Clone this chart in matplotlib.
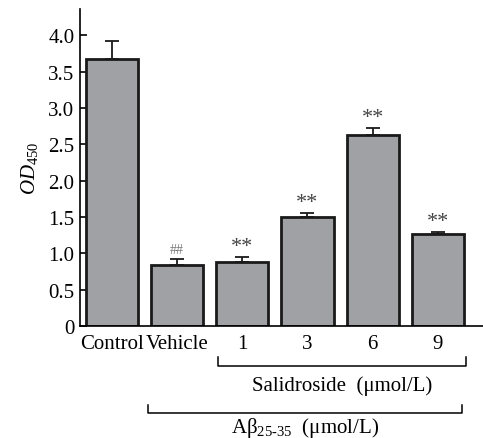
import matplotlib
matplotlib.use("Agg")
import matplotlib.pyplot as plt
import matplotlib.transforms as mtransforms

groups = ["Control", "Vehicle", "1", "3", "6", "9"]
od450 = [3.68, 0.84, 0.88, 1.50, 2.63, 1.27]
sem = [0.24, 0.08, 0.07, 0.05, 0.09, 0.02]
marks = ["", "##", "**", "**", "**", "**"]

plt.rcParams['font.family'] = ['Liberation Serif', 'DejaVu Serif']
plt.rcParams['mathtext.fontset'] = 'custom'
plt.rcParams['mathtext.rm'] = 'Liberation Serif'
plt.rcParams['mathtext.it'] = 'Liberation Serif:italic'

fig = plt.figure(figsize=(4.83, 4.39), dpi=100)
ax = fig.add_axes([0.1656, 0.255, 0.834, 0.722])

x = list(range(len(groups)))
ax.bar(x, od450, width=0.8, color='#a0a1a5', edgecolor='#1a1a1a', linewidth=2, zorder=2)
ax.errorbar(x, od450, yerr=[[0] * len(sem), sem], fmt='none', ecolor='#1a1a1a',
            elinewidth=1.3, capsize=5, capthick=1.3, zorder=1)

for xi, v, e, m in zip(x, od450, sem, marks):
    if m == "##":
        ax.text(xi, v + e + 0.04, m, ha='center', va='bottom', fontsize=10, color='#777777')
    elif m:
        ax.text(xi, v + e + 0.02, m, ha='center', va='bottom', fontsize=16, color='#444444')

ax.set_xlim(-0.49, 5.69)
ax.set_ylim(0, 4.36)
ax.set_yticks([0, 0.5, 1.0, 1.5, 2.0, 2.5, 3.0, 3.5, 4.0])
ax.set_yticklabels(["0", "0.5", "1.0", "1.5", "2.0", "2.5", "3.0", "3.5", "4.0"])
ax.set_xticks(x)
ax.set_xticklabels(groups)
ax.tick_params(axis='both', direction='in', labelsize=15, width=1.2, length=5, pad=4)
ax.tick_params(axis='x', pad=6)
for s in ['top', 'right']:
    ax.spines[s].set_visible(False)
for s in ['left', 'bottom']:
    ax.spines[s].set_linewidth(1.2)

ax.set_ylabel(r'$\mathit{OD}_{\mathrm{450}}$', fontsize=15, labelpad=6)

# brackets under the axis
trans = mtransforms.blended_transform_factory(ax.transData, fig.transFigure)
def bracket(x0, x1, y, h, label, ly):
    ax.plot([x0, x0, x1, x1], [y + h, y, y, y + h], transform=trans, color='black',
            linewidth=1.1, clip_on=False)
    ax.text((x0 + x1) / 2, ly, label, transform=trans, ha='center', va='center', fontsize=15)

bracket(1.63, 5.43, 1 - 367 / 439, 9 / 439, "Salidroside  (\u03bcmol/L)", 1 - 386 / 439)
bracket(0.55, 5.37, 1 - 414 / 439, 8 / 439, "A\u03b2$_{\\mathrm{25\\text{-}35}}$  (\u03bcmol/L)", 1 - 428 / 439)

fig.savefig("out.png", dpi=100)
